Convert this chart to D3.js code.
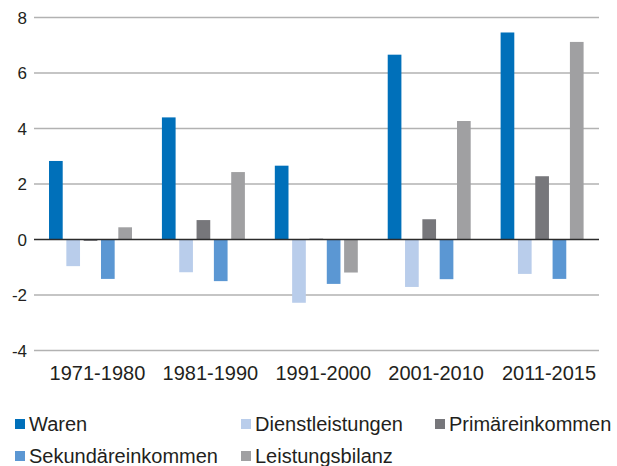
<!DOCTYPE html>
<html>
<head>
<meta charset="utf-8">
<script src="https://cdn.jsdelivr.net/npm/d3@7"></script>
<style>
  body { margin: 0; background: #fff; }
  svg { display: block; font-family: 'Liberation Sans', Arial, sans-serif; }
</style>
</head>
<body>
<svg id="chart" width="617" height="466"></svg>
<script>
// categories and series
const periods = ['1971-1980', '1981-1990', '1991-2000', '2001-2010', '2011-2015'];
const seriesNames = ['Waren', 'Dienstleistungen', 'Primäreinkommen', 'Sekundäreinkommen', 'Leistungsbilanz'];
const seriesColors = ['#0070ba', '#b9cdeb', '#77777b', '#5b97d3', '#a0a0a2'];

// values per series, one per period
const waren = [2.83, 4.40, 2.66, 6.66, 7.46];
const dienstleistungen = [-0.96, -1.18, -2.28, -1.71, -1.24];
const primaereinkommen = [-0.05, 0.70, 0.03, 0.73, 2.28];
const sekundaereinkommen = [-1.42, -1.50, -1.60, -1.43, -1.42];
const leistungsbilanz = [0.44, 2.43, -1.19, 4.27, 7.12];

const yTicks = [-4, -2, 0, 2, 4, 6, 8];

const seriesValues = [waren, dienstleistungen, primaereinkommen, sekundaereinkommen, leistungsbilanz];

const svg = d3.select('#chart');

const x = d3.scaleBand().domain(periods).range([34, 598.5]);
const inner = d3.scaleBand()
  .domain(seriesNames)
  .range([x.bandwidth() * 0.133, x.bandwidth() * 0.868])
  .paddingInner(0.21);
const y = d3.scaleLinear().domain([-4, 8]).range([350.5, 17.5]);

// gridlines
svg.append('g')
  .selectAll('line')
  .data(yTicks.filter(t => t !== 0))
  .join('line')
  .attr('x1', 34)
  .attr('x2', 599)
  .attr('y1', d => y(d))
  .attr('y2', d => y(d))
  .attr('stroke', '#b2b2b2')
  .attr('stroke-width', 1.3);

// y tick labels
svg.append('g')
  .selectAll('text')
  .data(yTicks)
  .join('text')
  .attr('x', 27)
  .attr('y', d => y(d))
  .attr('dy', '0.36em')
  .attr('text-anchor', 'end')
  .attr('font-size', 17)
  .attr('fill', '#231f20')
  .text(d => d);

// bars
const rows = periods.flatMap((p, i) => seriesNames.map((s, j) => ({ period: p, series: s, color: seriesColors[j], value: seriesValues[j][i] })));

svg.append('g')
  .selectAll('rect')
  .data(rows)
  .join('rect')
  .attr('x', d => x(d.period) + inner(d.series))
  .attr('width', inner.bandwidth())
  .attr('y', d => y(Math.max(0, d.value)))
  .attr('height', d => Math.abs(y(d.value) - y(0)))
  .attr('fill', d => d.color);

// zero line
svg.append('line')
  .attr('x1', 34)
  .attr('x2', 599)
  .attr('y1', y(0))
  .attr('y2', y(0))
  .attr('stroke', '#2b2b2b')
  .attr('stroke-width', 1.5);

// x labels (sit a little right of the group centres, as in the source)
svg.append('g')
  .selectAll('text')
  .data(periods)
  .join('text')
  .attr('x', d => x(d) + x.bandwidth() / 2 + 7)
  .attr('y', 380)
  .attr('text-anchor', 'middle')
  .attr('font-size', 20)
  .attr('fill', '#231f20')
  .text(d => d);

// legend, 3 columns
const legendCols = [15, 241, 435];
const legend = svg.append('g')
  .selectAll('g')
  .data(seriesNames)
  .join('g')
  .attr('transform', (d, i) => `translate(${legendCols[i % 3]},${419 + Math.floor(i / 3) * 32})`);

legend.append('rect')
  .attr('width', 10)
  .attr('height', 10)
  .attr('fill', (d, i) => seriesColors[i]);

legend.append('text')
  .attr('x', 14)
  .attr('y', 12)
  .attr('font-size', 20)
  .attr('fill', '#231f20')
  .text(d => d);
</script>
</body>
</html>
